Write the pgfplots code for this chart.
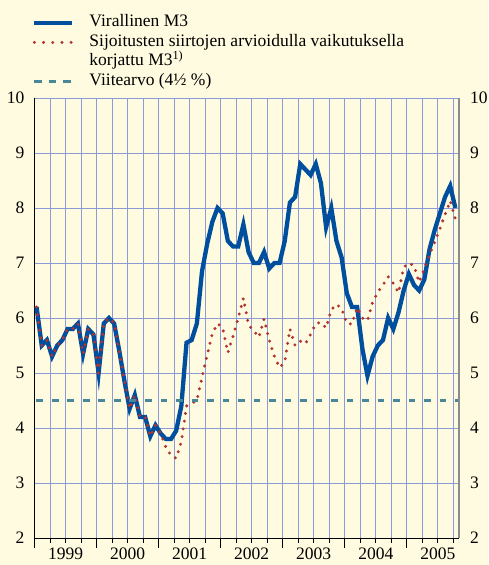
\documentclass[border=0pt]{standalone}
\usepackage{fontspec}
\setmainfont{Liberation Serif}
\usepackage{pgfplots}
\pgfplotsset{compat=1.18}
\usepackage{pgfplotstable}

\definecolor{bgc}{RGB}{255,251,224}
\definecolor{gridc}{RGB}{140,155,215}
\definecolor{m3blue}{RGB}{0,78,158}
\definecolor{m3red}{RGB}{178,52,46}
\definecolor{refteal}{RGB}{72,135,152}
\definecolor{axgray}{RGB}{140,140,140}
\newcommand\tf{\fontsize{17.5}{19}\selectfont}

% month index (0 = Jan 1999), official M3, adjusted M3
\pgfplotstableread{
m  off   adj
0  6.2   6.2
1  5.5   5.5
2  5.6   5.6
3  5.3   5.3
4  5.5   5.5
5  5.6   5.6
6  5.8   5.8
7  5.8   5.8
8  5.9   5.9
9  5.35  5.35
10 5.8   5.8
11 5.7   5.7
12 5.0   5.0
13 5.9   5.9
14 6.0   6.0
15 5.9   5.9
16 5.4   5.4
17 4.85  4.85
18 4.35  4.35
19 4.6   4.6
20 4.2   4.2
21 4.2   4.2
22 3.85  3.85
23 4.05  4.05
24 3.9   3.9
25 3.8   3.65
26 3.8   3.5
27 3.95  3.45
28 4.4   3.75
29 5.55  4.4
30 5.6   4.45
31 5.9   4.5
32 6.85  4.92
33 7.35  5.33
34 7.75  5.72
35 8.0   5.9
36 7.9   5.82
37 7.4   5.37
38 7.3   5.67
39 7.3   6.0
40 7.7   6.36
41 7.2   5.87
42 7.0   5.77
43 7.0   5.65
44 7.2   5.98
45 6.9   5.6
46 7.0   5.3
47 7.0   5.1
48 7.4   5.2
49 8.1   5.8
50 8.2   5.5
51 8.8   5.58
52 8.7   5.53
53 8.6   5.7
54 8.8   5.9
55 8.45  5.92
56 7.65  5.82
57 8.0   6.15
58 7.4   6.25
59 7.1   6.17
60 6.45  5.9
61 6.2   5.89
62 6.2   6.19
63 5.45  6.0
64 4.95  5.95
65 5.3   6.29
66 5.5   6.47
67 5.6   6.6
68 6.0   6.75
69 5.8   6.63
70 6.1   6.46
71 6.5   6.92
72 6.8   7.0
73 6.6   6.95
74 6.5   6.65
75 6.7   6.9
76 7.25  7.15
77 7.6   7.38
78 7.9   7.62
79 8.2   7.88
80 8.4   8.13
81 8.0   7.8
}\mthree

\pgfplotstableread{
m     ref
-0.4  4.5
81.7  4.5
}\refval

\begin{document}
\begin{tikzpicture}[x=1pt,y=1pt]
\fill[bgc] (-34.5,-27) rectangle (453.5,538);
\begin{axis}[
  at={(0,0)}, anchor=south west,
  scale only axis, width=424.5pt, height=440pt,
  xmin=-0.4, xmax=81.7, ymin=2, ymax=10,
  axis x line*=bottom, axis y line*=left,
  axis line style={-, black, line width=1pt},
  tick align=outside,
  major tick length=10pt, minor tick length=4.5pt,
  xtick={-0.4,11.6,23.6,35.6,47.6,59.6,71.6},
  xticklabels={},
  minor xtick={2.6,5.6,8.6,14.6,17.6,20.6,26.6,29.6,32.6,38.6,41.6,44.6,50.6,53.6,56.6,62.6,65.6,68.6,74.6,77.6,80.6},
  extra x ticks={5.6,17.6,29.6,41.6,53.6,65.6,77.6},
  extra x tick labels={1999,2000,2001,2002,2003,2004,2005},
  extra x tick style={grid=none, major tick style={draw=none}},
  xtick style={black, line width=0.9pt},
  ytick={2,3,4,5,6,7,8,9,10},
  ytick style={draw=none},
  grid=both,
  major grid style={draw=gridc, line width=1pt},
  minor grid style={draw=gridc, line width=1pt},
  ticklabel style={font=\tf, text=black, inner sep=0pt},
  /pgf/number format/assume math mode=true,
  legend cell align=left,
  legend image code/.code={\draw[#1] (0pt,0pt) -- (38pt,0pt);},
  legend style={at={(0,1)}, anchor=north west, xshift=-2.5pt, yshift=83.8pt,
    draw=none, fill=none, inner sep=0pt, row sep=2.5pt, column sep=15pt,
    font=\tf, text=black,
    nodes={inner sep=0pt, text height=12.5pt, text depth=4.5pt}},
]
\addplot[m3blue, line width=4.3pt] table[x=m, y=off] {\mthree};
\addlegendentry{Virallinen M3}
\addplot[m3red, line width=3.3pt, line cap=round, line join=round,
  dash pattern=on 0pt off 7.8pt,
  legend image post style={dash pattern=on 0pt off 9.2pt}] table[x=m, y=adj] {\mthree};
\addlegendentry{Sijoitusten siirtojen arvioidulla vaikutuksella}
\addlegendimage{empty legend}
\addlegendentry{korjattu M3\textsuperscript{1)}}
\addplot[refteal, line width=3pt, dash pattern=on 6.6pt off 8.9pt, dash phase=13.5pt,
  legend image post style={dash pattern=on 7.7pt off 6.6pt, dash phase=0pt}] table[x=m, y=ref] {\refval};
\addlegendentry{Viitearvo (4½ \%)}
\end{axis}
\begin{axis}[
  at={(0,0)}, anchor=south west,
  scale only axis, width=424.5pt, height=440pt,
  xmin=-0.4, xmax=81.7, ymin=2, ymax=10,
  axis y line*=right, axis x line=none,
  axis line style={-, draw=axgray, line width=1.5pt},
  tick align=outside, major tick length=11pt,
  ytick={2,3,4,5,6,7,8,9,10},
  ytick style={draw=none},
  yticklabel style={font=\tf, text=black, inner sep=0pt, anchor=west},
  /pgf/number format/assume math mode=true,
]
\end{axis}
\end{tikzpicture}
\end{document}
